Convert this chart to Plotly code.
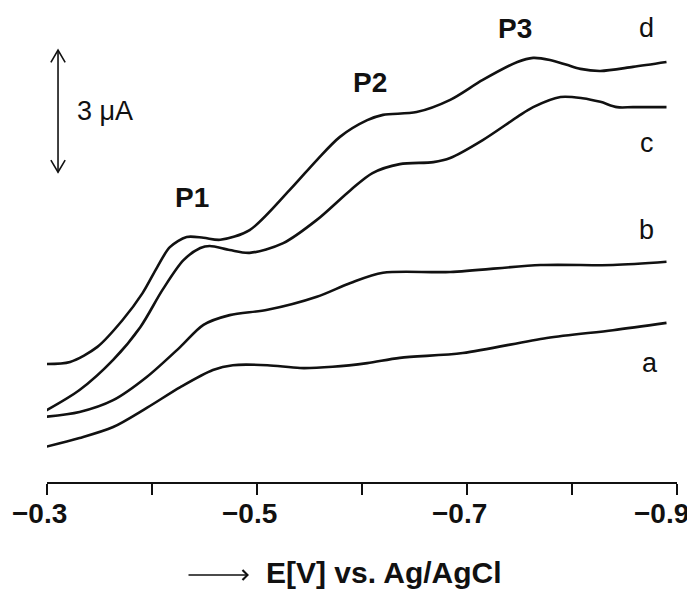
import plotly.graph_objects as go

# ---- data (E in V, current in µA, offset baseline) ----
E_a = [-0.298, -0.331, -0.363, -0.395, -0.427, -0.458, -0.477, -0.510, -0.541, -0.572, -0.605, -0.636, -0.696, -0.776, -0.839, -0.890]
I_a = [0.86, 1.08, 1.35, 1.82, 2.33, 2.75, 2.87, 2.87, 2.80, 2.83, 2.92, 3.05, 3.17, 3.54, 3.73, 3.91]

E_b = [-0.298, -0.331, -0.363, -0.395, -0.427, -0.449, -0.474, -0.510, -0.557, -0.589, -0.620, -0.684, -0.770, -0.839, -0.890]
I_b = [1.60, 1.72, 2.01, 2.58, 3.32, 3.86, 4.10, 4.23, 4.55, 4.89, 5.14, 5.16, 5.33, 5.33, 5.41]

E_c = [-0.298, -0.331, -0.363, -0.389, -0.410, -0.430, -0.446, -0.455, -0.474, -0.493, -0.525, -0.557, -0.589, -0.610, -0.636, -0.668, -0.684, -0.715, -0.748, -0.763, -0.789, -0.810, -0.827, -0.843, -0.858, -0.890]
I_c = [1.74, 2.26, 3.00, 3.81, 4.72, 5.45, 5.75, 5.80, 5.70, 5.63, 5.87, 6.44, 7.17, 7.59, 7.81, 7.86, 7.96, 8.40, 8.97, 9.21, 9.46, 9.43, 9.34, 9.21, 9.21, 9.21]

E_d = [-0.298, -0.322, -0.348, -0.372, -0.391, -0.405, -0.417, -0.433, -0.449, -0.465, -0.493, -0.531, -0.557, -0.579, -0.605, -0.620, -0.652, -0.684, -0.715, -0.748, -0.763, -0.779, -0.795, -0.808, -0.827, -0.858, -0.890]
I_d = [2.90, 2.95, 3.32, 3.98, 4.64, 5.28, 5.77, 6.02, 6.00, 5.95, 6.19, 7.17, 7.91, 8.48, 8.89, 9.02, 9.09, 9.39, 9.88, 10.32, 10.42, 10.37, 10.25, 10.15, 10.10, 10.20, 10.32]

curve_names = ["a", "b", "c", "d"]
curve_label_E = [-0.874, -0.871, -0.871, -0.871]
curve_label_I = [2.92, 6.19, 8.33, 11.15]

peak_names = ["P1", "P2", "P3"]
peak_E = [-0.438, -0.608, -0.746]
peak_I = [6.98, 9.82, 11.15]

tick_vals = [-0.3, -0.4, -0.5, -0.6, -0.7, -0.8, -0.9]
label_vals = [-0.3, -0.5, -0.7, -0.9]
label_text = ["\u22120.3", "\u22120.5", "\u22120.7", "\u22120.9"]

scale_ua = 3
scale_top = 10.61
scale_E = -0.3105

FONT = "Liberation Sans, Arial, DejaVu Sans, sans-serif"

fig = go.Figure()
for E, I, n in [(E_a, I_a, "a"), (E_b, I_b, "b"), (E_c, I_c, "c"), (E_d, I_d, "d")]:
    fig.add_trace(go.Scatter(x=E, y=I, mode="lines", name=n,
                             line=dict(color="#111111", width=2.6, shape="spline", smoothing=0.85),
                             showlegend=False, hoverinfo="skip"))

ann = []
for n, e, i in zip(curve_names, curve_label_E, curve_label_I):
    ann.append(dict(x=e, y=i, text=n, showarrow=False, xanchor="center", yanchor="middle",
                    font=dict(family=FONT, size=27, color="#111111")))
for n, e, i in zip(peak_names, peak_E, peak_I):
    ann.append(dict(x=e, y=i, text="<b>" + n + "</b>", showarrow=False, xanchor="center", yanchor="middle",
                    font=dict(family=FONT, size=28, color="#111111")))
for k, (v, t) in enumerate(zip(label_vals, label_text)):
    ann.append(dict(x=v, y=0, xref="x", yref="paper", text="<b>" + t + "</b>", showarrow=False,
                    xanchor="center", yanchor="middle", yshift=-31,
                    xshift=-16 if k == len(label_vals) - 1 else -8,
                    font=dict(family=FONT, size=28, color="#111111")))
# scale bar text
ann.append(dict(x=-0.3267, y=scale_top - scale_ua / 2, text="3 \u03bcA", showarrow=False,
                xanchor="left", yanchor="middle", font=dict(family=FONT, size=27, color="#111111")))
# x-axis title
ann.append(dict(xref="paper", yref="paper", x=(264 - 47) / 630, y=-(572 - 482) / 472,
                text="<b>E[V] vs. Ag/AgCl</b>", showarrow=False, xanchor="left", yanchor="middle",
                font=dict(family=FONT, size=30, color="#111111")))
ann.append(dict(xref="paper", yref="paper", x=(249 - 47) / 630, y=-(575 - 482) / 472,
                axref="pixel", ayref="pixel", ax=-62, ay=0, text="", showarrow=True,
                arrowhead=4, arrowsize=1.2, arrowwidth=1.6, arrowcolor="#111111", standoff=0))

# scale bar shape (double-headed arrow)
bot = scale_top - scale_ua
dx, dy = 0.0068, 0.30
shapes = [
    dict(type="line", xref="x", yref="y", x0=scale_E, x1=scale_E, y0=bot, y1=scale_top,
         line=dict(color="#111111", width=1.6)),
    dict(type="path", xref="x", yref="y",
         path=f"M {scale_E - dx},{scale_top - dy} L {scale_E},{scale_top} L {scale_E + dx},{scale_top - dy}",
         line=dict(color="#111111", width=1.6)),
    dict(type="path", xref="x", yref="y",
         path=f"M {scale_E - dx},{bot + dy} L {scale_E},{bot} L {scale_E + dx},{bot + dy}",
         line=dict(color="#111111", width=1.6)),
]

# page body has an 8px default margin, so the figure is 8px smaller and shifted
fig.update_layout(
    width=687, height=581,
    margin=dict(l=39, r=18, t=2, b=107),
    paper_bgcolor="white", plot_bgcolor="white",
    annotations=ann, shapes=shapes,
    xaxis=dict(range=[-0.3, -0.9], tickvals=tick_vals, showticklabels=False,
               showgrid=False, zeroline=False, showline=True, linecolor="#111111", linewidth=2,
               ticks="outside", ticklen=11, tickwidth=2, tickcolor="#111111"),
    yaxis=dict(range=[0, 11.597], visible=False, showgrid=False, zeroline=False),
)

fig.write_html("out.html")
